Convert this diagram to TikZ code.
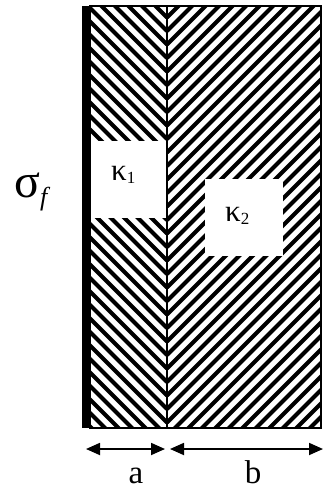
\documentclass[tikz,border=0pt]{standalone}
\usepackage{fontspec}
\setmainfont{Liberation Serif}
\usetikzlibrary{arrows.meta}
\tikzset{
  stripe/.style={line width=4pt,black},
  frameline/.style={line width=1.4pt,black},
  dimarrow/.style={line width=1.8pt,{Triangle[length=14pt,width=12pt]}-{Triangle[length=14pt,width=12pt]}},
  whitebox/.style={fill=white,draw=none},
  lbl/.style={inner sep=0pt,anchor=base,font=\fontsize{33}{33}\selectfont}
}
\begin{document}
\begin{tikzpicture}[x=1pt,y=-1pt]
\useasboundingbox (0,0) rectangle (323,491);
% hatching, left region
\begin{scope}
  \clip (90,6) rectangle (167,428);
  \foreach \k in {-2,...,46} {
    \draw[stripe] (167,{4+\k*13.5}) -- ++(-120,-120);
  }
\end{scope}
% hatching, right region
\begin{scope}
  \clip (167,6) rectangle (321,428);
  \foreach \k in {-2,...,46} {
    \draw[stripe] (167,{4+\k*13.5}) -- ++(200,-200);
  }
\end{scope}
% white label boxes
\path[whitebox] (90,141) rectangle (167,218);
\path[whitebox] (205,179) rectangle (283,256);
% frame
\draw[frameline] (90,6) rectangle (321,428);
\draw[frameline] (167,6) -- (167,428);
\fill[black] (82,6) rectangle (90,428);
% labels
\node[inner sep=0pt,anchor=base west] (sig) at (14,197)
  {\fontsize{48}{48}\selectfont σ\raisebox{-8pt}{\fontsize{26}{26}\selectfont\itshape f}};
\node[inner sep=0pt,anchor=base west] (k1) at (111,180)
  {\fontsize{31}{31}\selectfont κ\raisebox{-3pt}{\fontsize{17}{17}\selectfont 1}};
\node[inner sep=0pt,anchor=base west] (k2) at (225,221)
  {\fontsize{31}{31}\selectfont κ\raisebox{-3pt}{\fontsize{17}{17}\selectfont 2}};
% dimension arrows
\coordinate (aL) at (86,449);
\coordinate (aR) at (165,449);
\coordinate (bL) at (170,449);
\coordinate (bR) at (323,449);
\draw[dimarrow] (aL) -- (aR);
\draw[dimarrow] (bL) -- (bR);
\node[lbl] (la) at (136,483) {a};
\node[lbl] (lb) at (253,483) {b};
\end{tikzpicture}
\end{document}
